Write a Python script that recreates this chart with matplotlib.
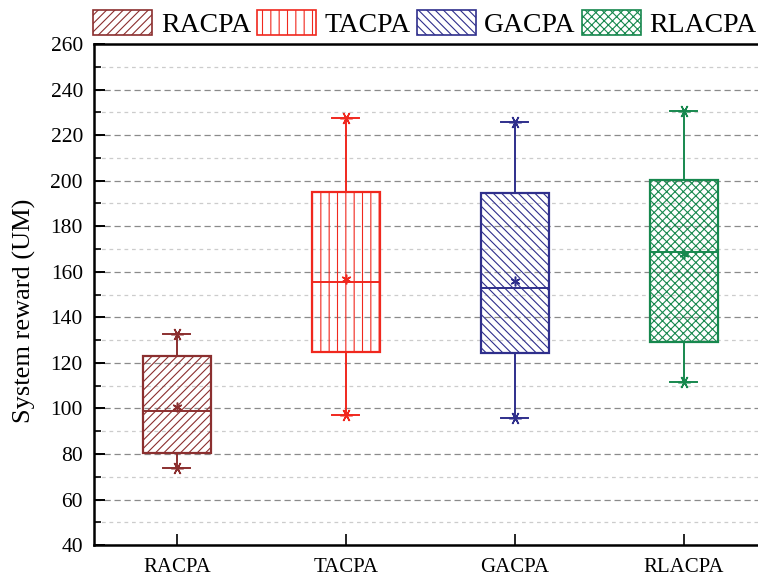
import matplotlib
matplotlib.use('Agg')
import matplotlib.pyplot as plt
from matplotlib.patches import Patch
from matplotlib.ticker import MultipleLocator

plt.rcParams['font.family'] = ['Liberation Serif', 'DejaVu Serif']
plt.rcParams['hatch.linewidth'] = 0.8

# box statistics per algorithm
methods = ['RACPA', 'TACPA', 'GACPA', 'RLACPA']
whisker_low = [73.8, 97.1, 95.8, 111.6]
box_low = [80.4, 124.8, 124.3, 129.2]
medians = [98.9, 155.5, 152.9, 168.7]
means = [100.6, 157.0, 156.0, 167.8]
box_high = [123.0, 195.0, 194.6, 200.3]
whisker_high = [132.7, 227.5, 225.8, 230.6]

colors = ['#8B2F2F', '#F0281E', '#2F2F8C', '#17884E']
hatches = ['////', '||', '\\\\\\\\', 'xxxx']

fig = plt.figure(figsize=(7.58, 5.83), dpi=100)
ax = fig.add_axes([0.124, 0.065, 0.876, 0.8595])

stats = []
for i, m in enumerate(methods):
    stats.append({'label': m, 'whislo': whisker_low[i], 'q1': box_low[i],
                  'med': medians[i], 'q3': box_high[i], 'whishi': whisker_high[i],
                  'mean': means[i], 'fliers': []})

pos = [1, 2, 3, 4]
for i in range(4):
    c = colors[i]
    b = ax.bxp([stats[i]], positions=[pos[i]], widths=0.4, patch_artist=True,
               showfliers=False, capwidths=0.16,
               boxprops=dict(facecolor='none', edgecolor=c, linewidth=1.6, hatch=hatches[i]),
               medianprops=dict(color=c, linewidth=1.4),
               whiskerprops=dict(color=c, linewidth=1.4),
               capprops=dict(color=c, linewidth=1.4))
    ax.plot([pos[i], pos[i]], [whisker_low[i], whisker_high[i]], linestyle='none',
            marker=(6, 2, 30), markersize=9, color=c, markeredgewidth=1.1, zorder=4)
    ax.plot(pos[i], means[i], marker=(6, 2, 0), markersize=7, color=c,
            markeredgewidth=1.1, linestyle='none', zorder=4)

ax.set_xlim(0.509, 4.438)
ax.set_ylim(40, 260)
ax.set_xticks(pos)
ax.set_xticklabels(methods, fontsize=15)
ax.yaxis.set_major_locator(MultipleLocator(20))
ax.yaxis.set_minor_locator(MultipleLocator(10))
ax.tick_params(axis='y', which='major', direction='in', length=8, width=1.4,
               labelsize=15.5, pad=8)
ax.tick_params(axis='y', which='minor', direction='in', length=5, width=1.2)
ax.tick_params(axis='x', direction='in', length=8, width=1.2, labelsize=15, pad=9)
ax.set_ylabel('System reward (UM)', fontsize=19)
ax.yaxis.set_label_coords(-0.088, 0.467)

ax.grid(axis='y', which='major', linestyle=(0, (5, 3)), color='#8a8a8a', linewidth=0.9)
ax.grid(axis='y', which='minor', linestyle=(0, (3, 3)), color='#cccccc', linewidth=0.9)
ax.set_axisbelow(True)

for s in ['left', 'bottom', 'top']:
    ax.spines[s].set_linewidth(1.8)
ax.spines['right'].set_visible(False)

handles = [Patch(facecolor='none', edgecolor=colors[i], hatch=hatches[i], linewidth=1.2)
           for i in range(4)]
fig.legend(handles, methods, loc='upper left', bbox_to_anchor=(0.101, 1.012), ncol=4,
           frameon=False, fontsize=20, handlelength=2.12, handleheight=1.05,
           handletextpad=0.31, columnspacing=0.22, borderaxespad=0.2)

fig.savefig('out.png', dpi=100)
